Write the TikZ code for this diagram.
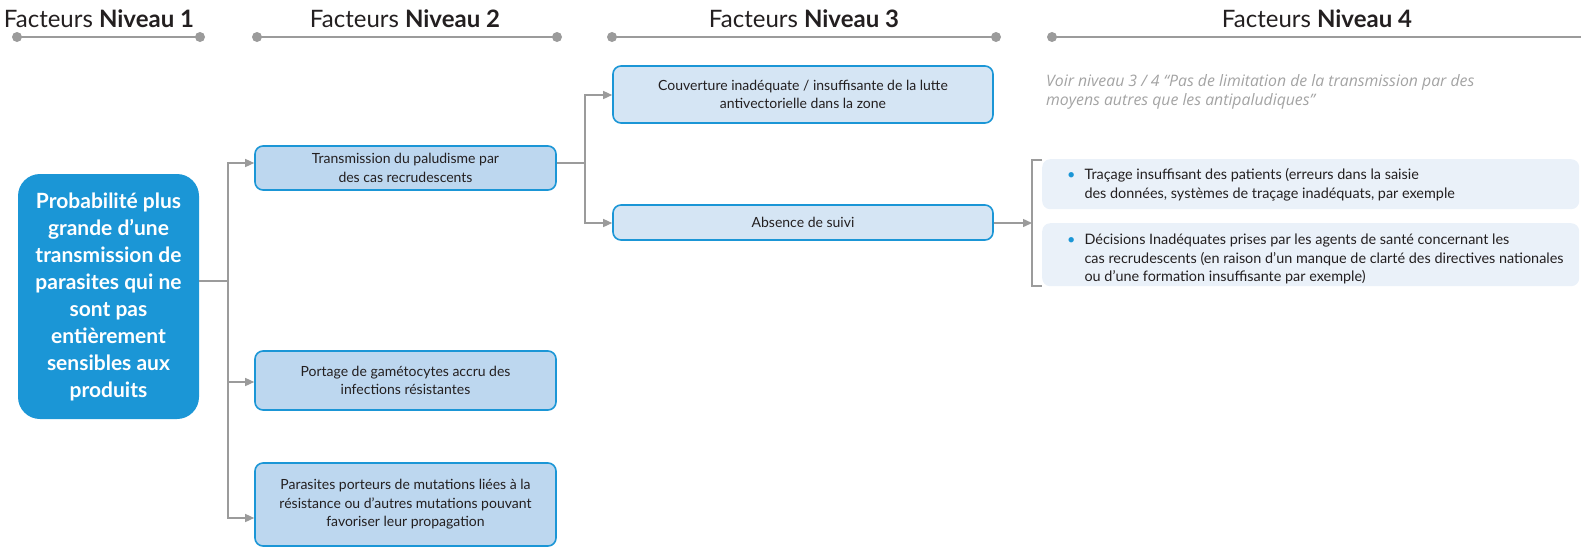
\documentclass[tikz,border=0pt]{standalone}
\usepackage{fontspec}
\setmainfont{Lato}
\newfontfamily\notefont{Open Sans}
\usetikzlibrary{arrows.meta}

\definecolor{mainblue}{HTML}{1B96D6}
\definecolor{lvtwo}{HTML}{BDD7EF}
\definecolor{lvthree}{HTML}{D5E5F4}
\definecolor{lvfour}{HTML}{EAF1F9}
\definecolor{linegray}{HTML}{9B9B9B}
\definecolor{notegray}{HTML}{A3A3A3}
\definecolor{inktext}{HTML}{231F20}

\tikzset{
  header/.style={font=\fontsize{24}{27}\selectfont, text=inktext, inner sep=0pt},
  headline/.style={draw=linegray, line width=1.8pt},
  headdot/.style={fill=linegray},
  mainbox/.style={draw=none, fill=mainblue, rounded corners=22pt, text=white,
    font=\bfseries\fontsize{21}{27}\selectfont, align=center, inner sep=0pt},
  lvbox/.style={draw=mainblue, line width=1.6pt, rounded corners=8pt,
    font=\fontsize{14}{18.5}\selectfont, text=inktext, align=center, inner sep=0pt},
  twobox/.style={lvbox, fill=lvtwo},
  threebox/.style={lvbox, fill=lvthree},
  fourbox/.style={draw=none, fill=lvfour, rounded corners=8pt, inner sep=0pt},
  fourtext/.style={font=\fontsize{14.4}{18.5}\selectfont, text=inktext, align=left, inner sep=0pt},
  note/.style={font=\notefont\itshape\fontsize{15.8}{19}\selectfont, text=notegray, align=left, inner sep=0pt},
  conn/.style={draw=linegray, line width=1.4pt},
  arr/.style={conn, -{Triangle[length=9pt,width=8pt]}},
}

\newcommand{\bulletrow}[1]{\begin{tabular}{@{}l@{\hspace{9pt}}l@{}}#1\end{tabular}}
\newcommand{\bdot}{{\color{mainblue}\textbullet}}

\begin{document}
\begin{tikzpicture}[x=1pt, y=-1pt]
\useasboundingbox (0,0) rectangle (1581,547);

% column headers with their rules
\node[header] (h1) at (99,19) {Facteurs \textbf{Niveau 1}};
\node[header] (h2) at (405,19) {Facteurs \textbf{Niveau 2}};
\node[header] (h3) at (804,19) {Facteurs \textbf{Niveau 3}};
\node[header] (h4) at (1317,19) {Facteurs \textbf{Niveau 4}};

\coordinate (r1a) at (17,37);   \coordinate (r1b) at (200,37);
\coordinate (r2a) at (257,37);  \coordinate (r2b) at (557,37);
\coordinate (r3a) at (612,37);  \coordinate (r3b) at (996,37);
\coordinate (r4a) at (1052,37); \coordinate (r4b) at (1581,37);
\draw[headline] (r1a) -- (r1b);
\draw[headline] (r2a) -- (r2b);
\draw[headline] (r3a) -- (r3b);
\draw[headline] (r4a) -- (r4b);
\foreach \p in {r1a,r1b,r2a,r2b,r3a,r3b,r4a}
  \fill[headdot] (\p) circle (5pt);

% level 1
\node[mainbox, minimum width=181pt, minimum height=245pt] (main) at (108.5,296.5)
  {Probabilité plus\\grande d’une\\transmission de\\parasites qui ne\\sont pas\\entièrement\\sensibles aux\\produits};

% level 2
\node[twobox, minimum width=301pt, minimum height=44pt] (a) at (405.5,168)
  {Transmission du paludisme par\\des cas recrudescents};
\node[twobox, minimum width=301pt, minimum height=59pt] (b) at (405.5,380.5)
  {Portage de gamétocytes accru des\\infections résistantes};
\node[twobox, minimum width=301pt, minimum height=83pt] (c) at (405.5,504.5)
  {Parasites porteurs de mutations liées à la\\résistance ou d’autres mutations pouvant\\favoriser leur propagation};

% level 3
\node[threebox, minimum width=380pt, minimum height=57pt] (d) at (803,94.5)
  {Couverture inadéquate / insuffisante de la lutte\\antivectorielle dans la zone};
\node[threebox, minimum width=380pt, minimum height=35pt] (e) at (803,222.5)
  {Absence de suivi};

% level 4
\node[note, anchor=north west] (n) at (1046,74)
  {Voir niveau 3 / 4 “Pas de limitation de la transmission par des\\moyens autres que les antipaludiques”};

\node[fourbox, minimum width=537pt, minimum height=50pt, anchor=north west] (f) at (1042,159) {};
\node[fourbox, minimum width=537pt, minimum height=63pt, anchor=north west] (g) at (1042,223) {};
\node[fourtext, anchor=west] (ft) at ([xshift=25pt,yshift=-1pt]f.west)
  {\bulletrow{\bdot & Traçage insuffisant des patients (erreurs dans la saisie\\
   & des données, systèmes de traçage inadéquats, par exemple}};
\node[fourtext, anchor=west] (gt) at ([xshift=25pt,yshift=-5pt]g.west)
  {\bulletrow{\bdot & Décisions Inadéquates prises par les agents de santé concernant les\\
   & cas recrudescents (en raison d’un manque de clarté des directives nationales\\
   & ou d’une formation insuffisante par exemple)}};

% connectors
\coordinate (j1) at (228,281);
\coordinate (j2) at (585,163);
\coordinate (k1) at (1032,160);
\coordinate (k2) at (1032,286);
\coordinate (kt) at (1032,223);

\draw[conn] (j1 -| main.east) -- (j1);
\draw[arr] (j1) |- (a.west |- 0,163);
\draw[arr] (j1) |- (b.west |- 0,382);
\draw[arr] (j1) |- (c.west |- 0,518);

\draw[conn] (j2 -| a.east) -- (j2);
\draw[arr] (j2) |- (d.west |- 0,95);
\draw[arr] (j2) |- (e.west |- 0,223);

\draw[arr] (e.east |- kt) -- (kt);
\draw[conn] (k1 -| f.west) -- (k1) -- (k2) -- (k2 -| g.west);
\end{tikzpicture}
\end{document}
